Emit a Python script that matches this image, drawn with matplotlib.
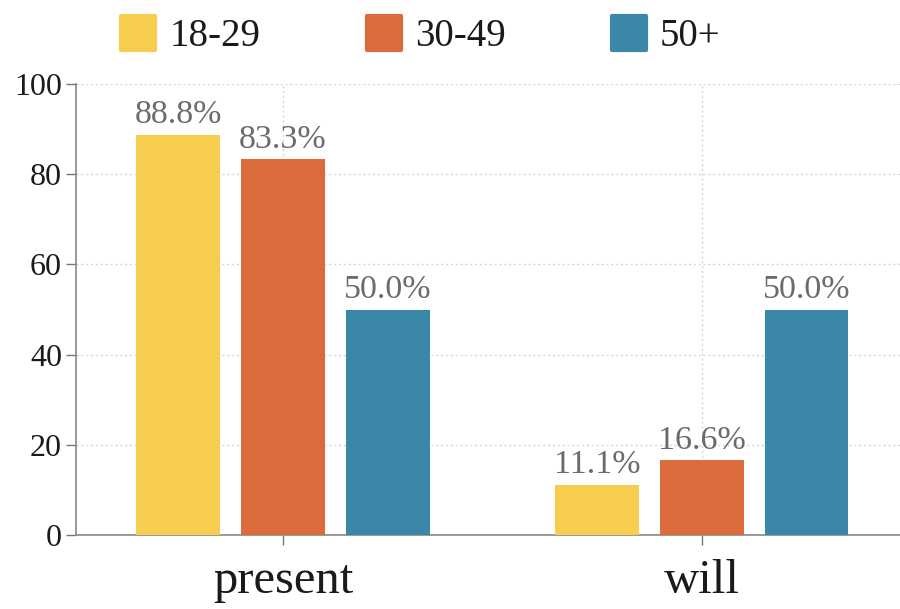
import matplotlib
matplotlib.use("Agg")
import matplotlib.pyplot as plt
import numpy as np
from matplotlib.lines import Line2D
from matplotlib.markers import MarkerStyle

categories = ["present", "will"]
series_names = ["18-29", "30-49", "50+"]
values_18_29 = [88.8, 11.1]
values_30_49 = [83.3, 16.6]
values_50p = [50.0, 50.0]
colors = ["#F6CD4F", "#DC6B3B", "#3A87A8"]
yticks = [0, 20, 40, 60, 80, 100]

plt.rcParams['font.family'] = ['Liberation Serif', 'DejaVu Serif']

fig = plt.figure(figsize=(9, 6.09), dpi=100)
W, H = 900, 609
left, right = 76, 900
top, bottom = 84, 535
ax = fig.add_axes([left / W, 1 - bottom / H, (right - left) / W, (bottom - top) / H])

x = np.arange(len(categories))
width = 0.2
offsets = [-0.25, 0.0, 0.25]
all_vals = [values_18_29, values_30_49, values_50p]
for vals, off, c in zip(all_vals, offsets, colors):
    bars = ax.bar(x + off, vals, width, color=c, zorder=3)
    for b, v in zip(bars, vals):
        ax.text(b.get_x() + b.get_width() / 2, v + 1.0, f"{v:.1f}%",
                ha="center", va="bottom", fontsize=24.5, color="#6b6b6b", zorder=4)

ax.set_xlim(-0.494, 1.473)
ax.set_ylim(0, 100)
ax.set_yticks(yticks)
ax.set_xticks(x)
ax.set_xticklabels(categories, fontsize=35, color="#1a1a1a")
ax.tick_params(axis="y", labelsize=23, colors="#777777", labelcolor="#1a1a1a",
               length=7, width=1, direction="out", pad=3)
ax.tick_params(axis="x", colors="#777777", labelcolor="#1a1a1a",
               length=7, width=1, direction="out", pad=10)

for s in ["top", "right"]:
    ax.spines[s].set_visible(False)
for s in ["left", "bottom"]:
    ax.spines[s].set_color("#888888")
    ax.spines[s].set_linewidth(1.2)

ax.grid(True, axis="both", linestyle=(0, (1.5, 2)), color="#d5d5d5", linewidth=1, zorder=0)
ax.set_axisbelow(True)

handles = [Line2D([0], [0], linestyle="None",
                  marker=MarkerStyle("s", joinstyle="round"),
                  markersize=24, markerfacecolor=c, markeredgecolor=c,
                  markeredgewidth=3) for c in colors]
leg = fig.legend(handles, series_names, loc="center left",
                 bbox_to_anchor=(119 / W, 1 - 37 / H), ncol=3, frameon=False,
                 fontsize=28, handlelength=1.0, handletextpad=0.3,
                 columnspacing=2.67, borderpad=0, borderaxespad=0)
for t in leg.get_texts():
    t.set_color("#1a1a1a")

fig.savefig("out.png", dpi=100, facecolor="white")
